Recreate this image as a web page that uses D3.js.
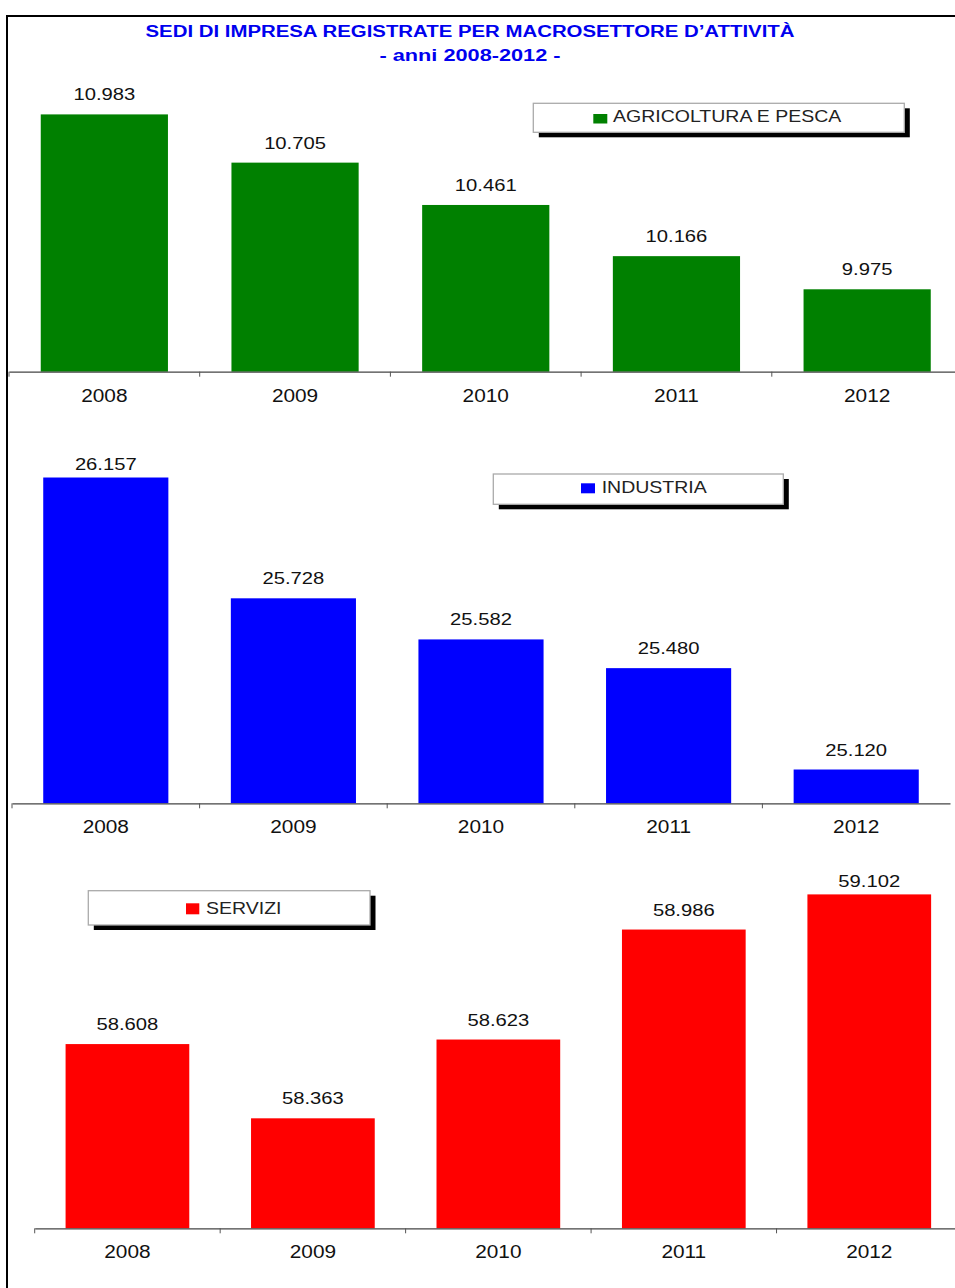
<!DOCTYPE html>
<html><head><meta charset="utf-8">
<script src="https://cdn.jsdelivr.net/npm/d3@7"></script>
<style>body{margin:0;background:#fff} svg{display:block}</style>
</head><body>
<svg id="c" width="955" height="1288"></svg>
<script>
// ---- data ----
const years = ["2008", "2009", "2010", "2011", "2012"];
const agricolturaValues = [10983, 10705, 10461, 10166, 9975];
const industriaValues = [26157, 25728, 25582, 25480, 25120];
const serviziValues = [58608, 58363, 58623, 58986, 59102];
const seriesNames = ["AGRICOLTURA E PESCA", "INDUSTRIA", "SERVIZI"];
const seriesColors = ["#008000", "#0000ff", "#ff0000"];
const yDomains = [[9500, 11000], [25000, 26200], [58000, 59200]];
const titleLines = ["SEDI DI IMPRESA REGISTRATE PER MACROSETTORE D’ATTIVITÀ", "- anni 2008-2012 -"];

// ---- layout ----
const panels = [
  { values: agricolturaValues, xRange: [9, 962.5], axisY: 371.7, plotTop: 111.45, labelMinY: 0,
    legend: { x: 533.3, y: 103.3, w: 371, h: 29, sqX: 593.3, sqY: 114, sqW: 14, sqH: 9.5, tx: 613, ty: 121.7 } },
  { values: industriaValues, xRange: [12, 950], axisY: 803.3, plotTop: 465.4, labelMinY: 470,
    legend: { x: 493.3, y: 474, w: 290, h: 30.3, sqX: 581, sqY: 483.3, sqW: 14, sqH: 10, tx: 601.7, ty: 493.3 } },
  { values: serviziValues, xRange: [34.7, 962], axisY: 1228.3, plotTop: 864.7, labelMinY: 887.3,
    legend: { x: 88.3, y: 890.7, w: 281.7, h: 34.3, sqX: 186, sqY: 903.3, sqW: 13.3, sqH: 11, tx: 206, ty: 914.3 } }
];
const FONT = "'Liberation Sans', Arial, sans-serif";
const SX = 1.19;

const locale = d3.formatLocale({ decimal: ",", thousands: ".", grouping: [3], currency: ["€", ""] });
const fmt = locale.format(",d");

const svg = d3.select("#c");

// frame
svg.append("path").attr("d", "M7,1300 V16 H965").attr("fill", "none")
  .attr("stroke", "#000").attr("stroke-width", 2);

// title
svg.append("text").attr("x", 470).attr("y", 37.3).attr("text-anchor", "middle")
  .attr("font-family", FONT).attr("font-weight", "bold").attr("font-size", 16)
  .attr("fill", "#0000ee").attr("textLength", 649).attr("lengthAdjust", "spacingAndGlyphs")
  .text(titleLines[0]);
svg.append("text").attr("x", 470).attr("y", 61).attr("text-anchor", "middle")
  .attr("font-family", FONT).attr("font-weight", "bold").attr("font-size", 16)
  .attr("fill", "#0000ee").attr("textLength", 181).attr("lengthAdjust", "spacingAndGlyphs")
  .text(titleLines[1]);

panels.forEach((p, i) => {
  const x = d3.scaleBand().domain(years).range(p.xRange).paddingInner(0.333).paddingOuter(0.1665);
  const y = d3.scaleLinear().domain(yDomains[i]).range([p.axisY, p.plotTop]);
  const g = svg.append("g");

  // bars
  g.selectAll("rect.bar").data(p.values).join("rect").attr("class", "bar")
    .attr("x", (d, j) => x(years[j]))
    .attr("width", x.bandwidth())
    .attr("y", d => y(d))
    .attr("height", d => p.axisY - y(d))
    .attr("fill", seriesColors[i]);

  // value labels
  g.selectAll("text.val").data(p.values).join("text").attr("class", "val")
    .attr("transform", (d, j) => `translate(${x(years[j]) + x.bandwidth() / 2},${Math.max(y(d) - 14, p.labelMinY)}) scale(${SX},1)`)
    .attr("text-anchor", "middle").attr("font-family", FONT).attr("font-size", 17)
    .attr("fill", "#111").text(d => fmt(d));

  // axis
  const axis = d3.axisBottom(x).tickSize(0).tickSizeOuter(0);
  const ag = g.append("g").attr("transform", `translate(0,${p.axisY})`).call(axis);
  ag.select(".domain").attr("stroke", "#444").attr("stroke-width", 1.3);
  ag.selectAll(".tick text").attr("font-family", FONT).attr("font-size", 17.5)
    .attr("fill", "#111").attr("y", 0).attr("dy", 0)
    .attr("transform", `translate(0,${30}) scale(${SX},1)`);

  // boundary ticks
  const step = x.step();
  const boundaries = years.map(yr => x(yr) - step * x.paddingInner() / 2);
  g.selectAll("line.tk").data(boundaries).join("line").attr("class", "tk")
    .attr("x1", d => d).attr("x2", d => d)
    .attr("y1", p.axisY).attr("y2", p.axisY + 5)
    .attr("stroke", "#555").attr("stroke-width", 1);

  // legend
  const L = p.legend;
  g.append("rect").attr("x", L.x + 5.5).attr("y", L.y + 5).attr("width", L.w).attr("height", L.h).attr("fill", "#000");
  g.append("rect").attr("x", L.x).attr("y", L.y).attr("width", L.w).attr("height", L.h)
    .attr("fill", "#fff").attr("stroke", "#aaa").attr("stroke-width", 1.3);
  g.append("rect").attr("x", L.sqX).attr("y", L.sqY).attr("width", L.sqW).attr("height", L.sqH).attr("fill", seriesColors[i]);
  g.append("text").attr("transform", `translate(${L.tx},${L.ty}) scale(1.22,1)`)
    .attr("font-family", FONT).attr("font-size", 16).attr("fill", "#222")
    .text(seriesNames[i]);
});
</script>
</body></html>
